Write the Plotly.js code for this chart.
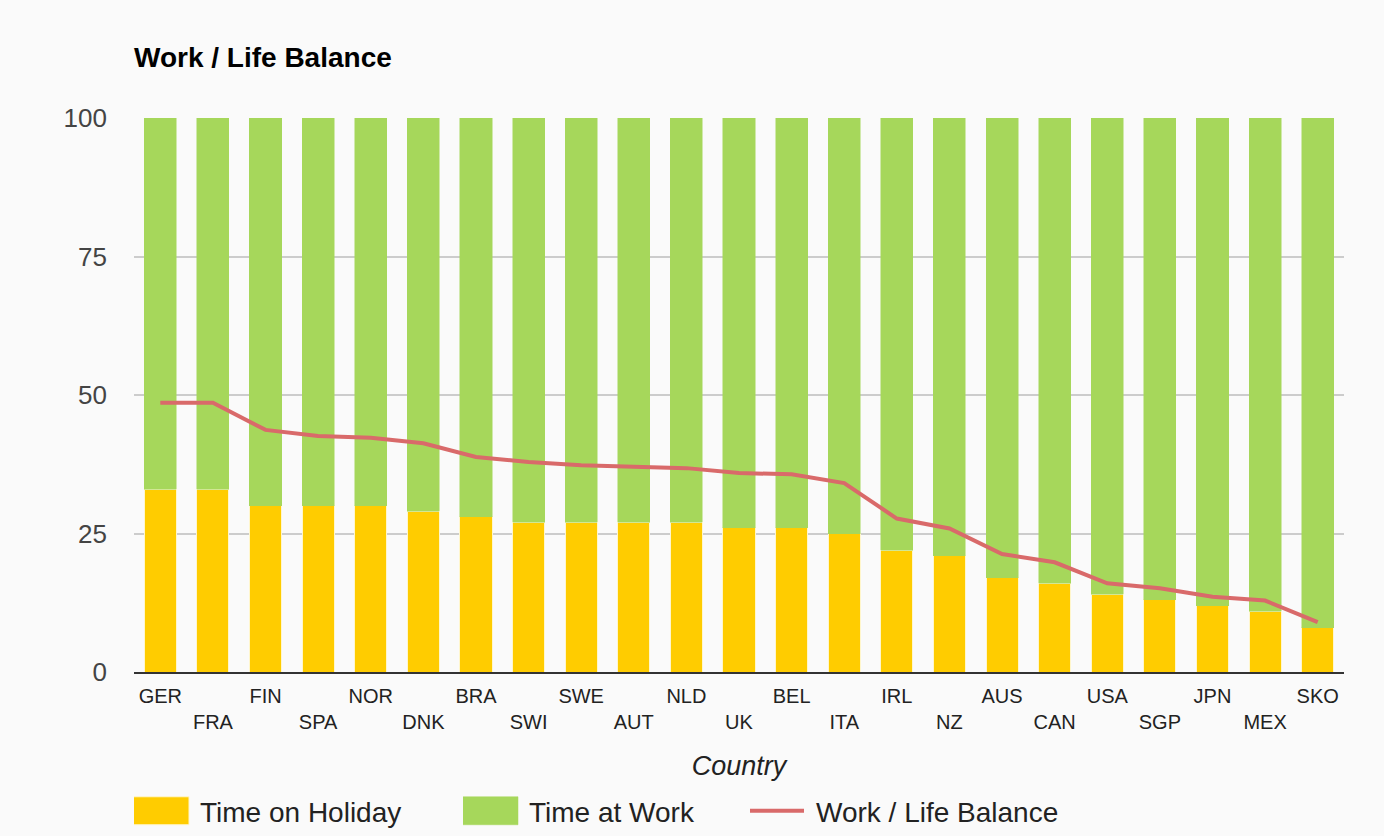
<!DOCTYPE html>
<html>
<head>
<meta charset="utf-8">
<script src="https://cdn.plot.ly/plotly-3.0.1.min.js"></script>
<style>
  html, body { margin: 0; padding: 0; background: #fafafa; }
  #chart { width: 1384px; height: 836px; }
</style>
</head>
<body>
<div id="chart"></div>
<script>
const countries = ["GER","FRA","FIN","SPA","NOR","DNK","BRA","SWI","SWE","AUT","NLD","UK","BEL","ITA","IRL","NZ","AUS","CAN","USA","SGP","JPN","MEX","SKO"];
const timeOnHoliday = [33,33,30,30,30,29,28,27,27,27,27,26,26,25,22,21,17,16,14,13,12,11,8];
const timeAtWork = [67,67,70,70,70,71,72,73,73,73,73,74,74,75,78,79,83,84,86,87,88,89,92];
const workLifeBalance = [48.6,48.6,43.7,42.6,42.3,41.3,38.8,37.9,37.3,37.0,36.8,35.9,35.7,34.1,27.7,25.9,21.3,19.8,16.0,15.1,13.6,12.9,9.0];
const yTicks = [0,25,50,75,100];

const YELLOW = "#ffcc00";
const GREEN = "#a6d75b";
const RED = "#d96a6a";
const FONT = "Liberation Sans, Arial, sans-serif";

// alternate tick labels onto two rows
const tickText = countries.map((c, i) => (i % 2 === 0 ? c : "<br>" + c));

const traces = [
  {
    type: "bar", name: "Time on Holiday", x: countries, y: timeOnHoliday,
    marker: { color: YELLOW, line: { color: "#fff6cc", width: 1 } },
    legend: "legend", hoverinfo: "x+y"
  },
  {
    type: "bar", name: "Time at Work", x: countries, y: timeAtWork,
    marker: { color: GREEN, line: { color: GREEN, width: 0.5 } },
    legend: "legend2", hoverinfo: "x+y"
  },
  {
    type: "scatter", mode: "lines", name: "Work / Life Balance", x: countries, y: workLifeBalance,
    line: { color: RED, width: 4 },
    legend: "legend3", hoverinfo: "x+y"
  }
];

const legendBase = (x) => ({
  orientation: "h",
  x: x, xanchor: "left",
  y: -0.251, yanchor: "middle",
  font: { family: FONT, size: 28, color: "#222" },
  itemwidth: 56,
  bgcolor: "rgba(0,0,0,0)",
  borderwidth: 0
});

const layout = {
  width: 1384, height: 836,
  paper_bgcolor: "#fafafa", plot_bgcolor: "#fafafa",
  font: { family: FONT, color: "#222" },
  margin: { l: 134, r: 40, t: 118, b: 164, autoexpand: false },
  barmode: "stack",
  bargap: 0.39,
  title: {
    text: "<b>Work / Life Balance</b>",
    font: { family: FONT, size: 28, color: "#000" },
    xref: "paper", x: 0, xanchor: "left",
    yref: "container", y: 1 - 57 / 836, yanchor: "middle"
  },
  xaxis: {
    type: "category",
    tickmode: "array", tickvals: countries, ticktext: tickText,
    tickfont: { family: FONT, size: 20, color: "#222" },
    ticks: "", showgrid: false, ticklabelstandoff: 5,
    showline: true, linecolor: "#333", linewidth: 2,
    title: { text: "<i>Country</i>", font: { family: FONT, size: 27, color: "#222" }, standoff: 24 },
    fixedrange: true
  },
  yaxis: {
    range: [0, 100],
    tickmode: "array", tickvals: yTicks,
    tickfont: { family: FONT, size: 26, color: "#444" },
    ticks: "", ticklabelstandoff: 26,
    showgrid: true, gridcolor: "#cccccc", gridwidth: 2,
    zeroline: false, showline: false,
    fixedrange: true
  },
  showlegend: true,
  legend: legendBase(0),
  legend2: legendBase((463 - 134) / 1210),
  legend3: legendBase((750 - 134) / 1210)
};

const gd = document.getElementById("chart");

// Enlarge legend swatches to match the reference's wide blocks/lines
function enlargeLegendSymbols() {
  gd.querySelectorAll("g.traces").forEach((tr) => {
    try {
      const txt = tr.querySelector("text");
      if (!txt) return;
      const tx = parseFloat(txt.getAttribute("x")) || 0;
      const trInv = tr.getCTM().inverse();
      tr.querySelectorAll("path").forEach((p) => {
        if (!p.getAttribute("d")) return;
        const m = trInv.multiply(p.getCTM());
        if (p.closest(".legendlines")) {
          const x0 = (tx - 67 - m.e) / m.a, x1 = (tx - 12 - m.e) / m.a;
          const yc = (0 - m.f) / m.d;
          p.setAttribute("d", `M${x0},${yc}H${x1}`);
        } else if (p.closest(".legendpoints") || p.closest(".legendsymbols")) {
          const x0 = (tx - 67 - m.e) / m.a, x1 = (tx - 11 - m.e) / m.a;
          const y0 = (-14 - m.f) / m.d, y1 = (14 - m.f) / m.d;
          p.setAttribute("d", `M${x0},${y0}H${x1}V${y1}H${x0}Z`);
        }
      });
    } catch (e) { /* ignore */ }
  });
}

Plotly.newPlot(gd, traces, layout, { displayModeBar: false, responsive: false })
  .then(() => {
    enlargeLegendSymbols();
    gd.on("plotly_afterplot", enlargeLegendSymbols);
  });
</script>
</body>
</html>
